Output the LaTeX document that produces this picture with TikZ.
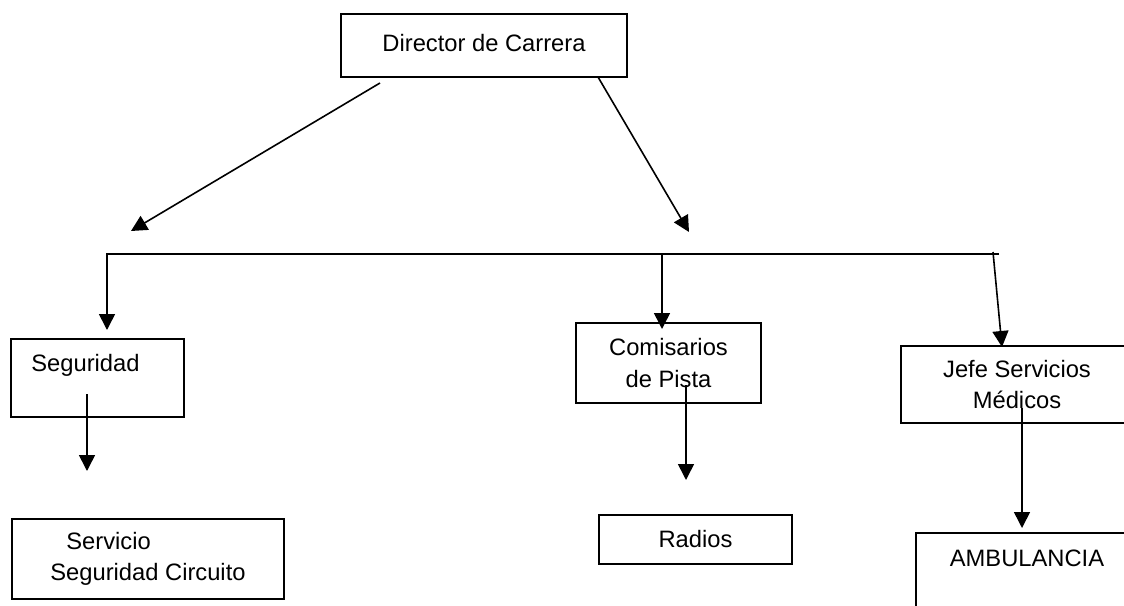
\documentclass[tikz,border=0pt]{standalone}
\usepackage{fontspec}
\setmainfont{Liberation Sans}
\usetikzlibrary{arrows.meta}

\begin{document}
\begin{tikzpicture}[x=0.75pt, y=-0.75pt,
  every node/.style={font=\fontsize{17.8pt}{23.5pt}\selectfont, inner sep=0pt},
  box/.style={draw, line width=1.4pt, align=center},
  link/.style={line width=1.2pt, -{Triangle[length=12pt, width=12pt]}}]

\useasboundingbox (0,0) rectangle (1124,606);
\clip (0,0) rectangle (1124,606);

% Boxes (top level, then the three areas and what hangs below them)
\node[box, minimum width=214.5pt, minimum height=47.25pt] (director) at (484,45.5) {Director de Carrera\vphantom{g}};
\node[box, minimum width=129.75pt, minimum height=58.5pt] (seguridad) at (97.5,378) {};
\node (segtxt) at (85.5,365) {Seguridad};
\node[box, minimum width=138.75pt, minimum height=60pt] (comisarios) at (668.5,363) {Comisarios\\de Pista};
\node[box, minimum width=174pt, minimum height=57.75pt] (jefe) at (1017,384.5) {Jefe Servicios\\Médicos};
\node[box, minimum width=204pt, minimum height=60pt, align=left] (servicio) at (148,559) {\hspace*{12pt}Servicio\\Seguridad Circuito};
\node[box, minimum width=144.75pt, minimum height=36.75pt] (radios) at (695.5,539.5) {Radios};
\node[box, minimum width=166.5pt, minimum height=65.25pt] (ambulancia) at (1027,576.5) {};
\node (ambtxt) at (1027,558) {AMBULANCIA};

% Free ends of the connectors
\coordinate (dirL) at (380,83);
\coordinate (dirR) at (598,77);
\coordinate (tipL) at (131,231);
\coordinate (tipR) at (689,232);
\coordinate (barL) at (107,254);
\coordinate (barR) at (999,254);
\coordinate (barC) at (662,254);
\coordinate (barJ) at (993,252);
\coordinate (segTip) at (107,330);
\coordinate (comTip) at (662,329);
\coordinate (jefTip) at (1002,347);
\coordinate (segA) at (87,394);
\coordinate (segB) at (87,471);
\coordinate (comA) at (686,385);
\coordinate (comB) at (686,480);
\coordinate (jefA) at (1022,408);
\coordinate (jefB) at (1022,528);

% Connectors
\draw[link] (dirL) -- (tipL);
\draw[link] (dirR) -- (tipR);
\draw[link] (barR) -- (barL) -- (segTip);
\draw[link] (barC) -- (comTip);
\draw[link] (barJ) -- (jefTip);
\draw[link] (segA) -- (segB);
\draw[link] (comA) -- (comB);
\draw[link] (jefA) -- (jefB);
\end{tikzpicture}
\end{document}
